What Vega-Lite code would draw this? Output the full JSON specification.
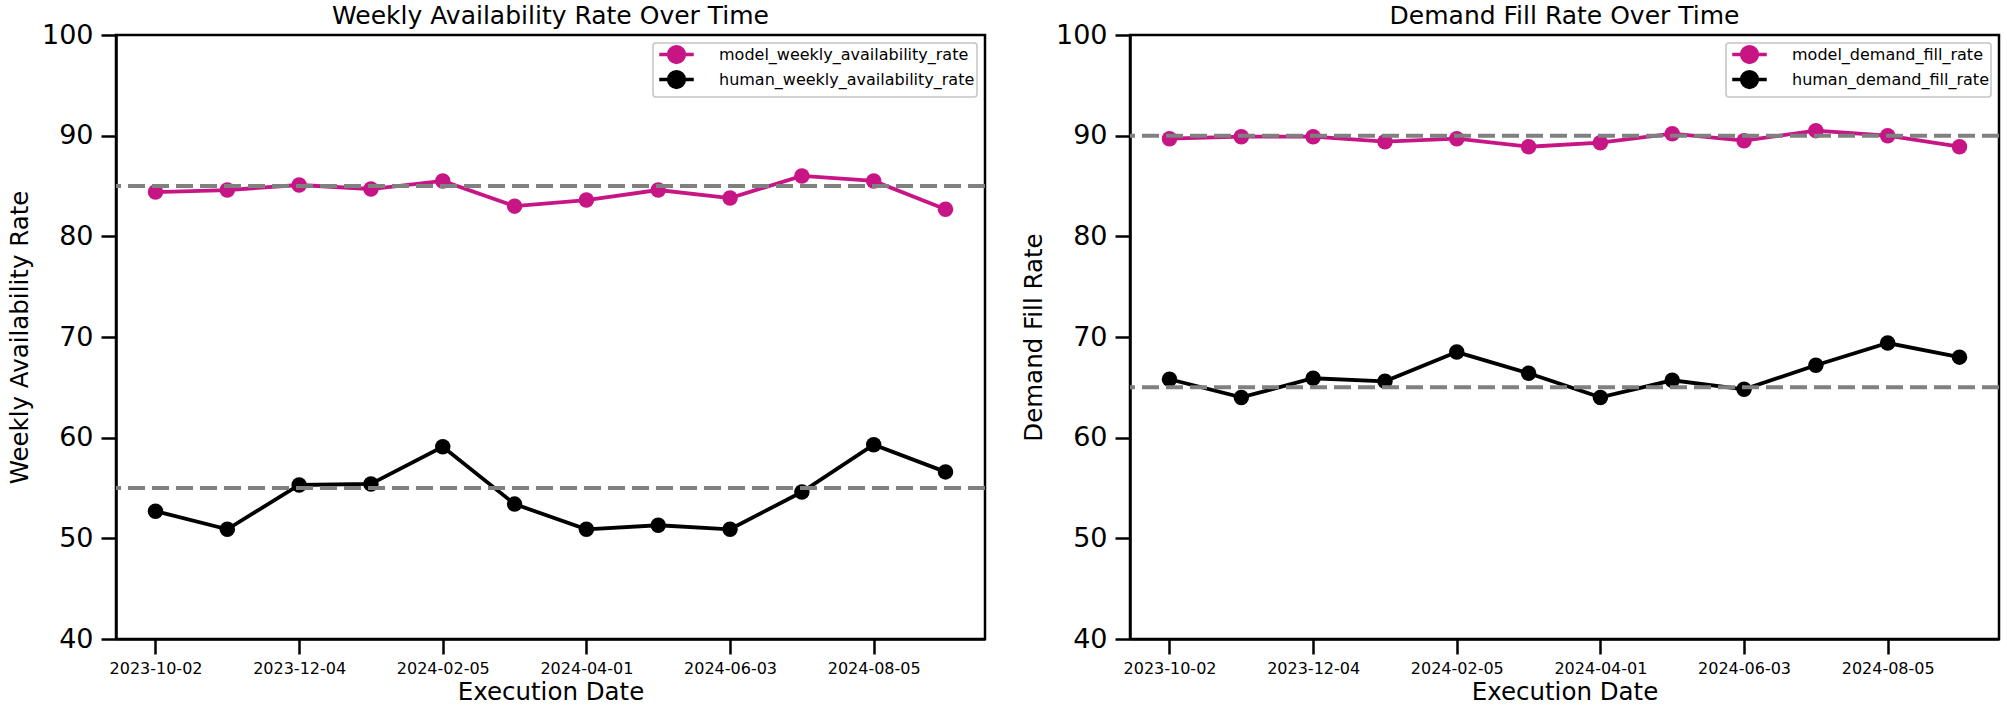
{
  "$schema": "https://vega.github.io/schema/vega-lite/v6.json",
  "background": "white",
  "padding": {"left": 6, "top": 2, "right": 5, "bottom": 2},
  "bounds": "flush",
  "spacing": 145,
  "datasets": {
    "weekly": [
      {"date": "2023-10-02", "series": "model_weekly_availability_rate", "value": 84.4},
      {"date": "2023-11-06", "series": "model_weekly_availability_rate", "value": 84.6},
      {"date": "2023-12-04", "series": "model_weekly_availability_rate", "value": 85.1},
      {"date": "2024-01-01", "series": "model_weekly_availability_rate", "value": 84.7},
      {"date": "2024-02-05", "series": "model_weekly_availability_rate", "value": 85.5},
      {"date": "2024-03-04", "series": "model_weekly_availability_rate", "value": 83.0},
      {"date": "2024-04-01", "series": "model_weekly_availability_rate", "value": 83.6},
      {"date": "2024-05-06", "series": "model_weekly_availability_rate", "value": 84.6},
      {"date": "2024-06-03", "series": "model_weekly_availability_rate", "value": 83.8},
      {"date": "2024-07-01", "series": "model_weekly_availability_rate", "value": 86.0},
      {"date": "2024-08-05", "series": "model_weekly_availability_rate", "value": 85.5},
      {"date": "2024-09-02", "series": "model_weekly_availability_rate", "value": 82.7},
      {"date": "2023-10-02", "series": "human_weekly_availability_rate", "value": 52.7},
      {"date": "2023-11-06", "series": "human_weekly_availability_rate", "value": 50.9},
      {"date": "2023-12-04", "series": "human_weekly_availability_rate", "value": 55.3},
      {"date": "2024-01-01", "series": "human_weekly_availability_rate", "value": 55.4},
      {"date": "2024-02-05", "series": "human_weekly_availability_rate", "value": 59.1},
      {"date": "2024-03-04", "series": "human_weekly_availability_rate", "value": 53.4},
      {"date": "2024-04-01", "series": "human_weekly_availability_rate", "value": 50.9},
      {"date": "2024-05-06", "series": "human_weekly_availability_rate", "value": 51.3},
      {"date": "2024-06-03", "series": "human_weekly_availability_rate", "value": 50.9},
      {"date": "2024-07-01", "series": "human_weekly_availability_rate", "value": 54.6},
      {"date": "2024-08-05", "series": "human_weekly_availability_rate", "value": 59.3},
      {"date": "2024-09-02", "series": "human_weekly_availability_rate", "value": 56.6}
    ],
    "fill": [
      {"date": "2023-10-02", "series": "model_demand_fill_rate", "value": 89.7},
      {"date": "2023-11-06", "series": "model_demand_fill_rate", "value": 89.9},
      {"date": "2023-12-04", "series": "model_demand_fill_rate", "value": 89.9},
      {"date": "2024-01-01", "series": "model_demand_fill_rate", "value": 89.4},
      {"date": "2024-02-05", "series": "model_demand_fill_rate", "value": 89.7},
      {"date": "2024-03-04", "series": "model_demand_fill_rate", "value": 88.9},
      {"date": "2024-04-01", "series": "model_demand_fill_rate", "value": 89.3},
      {"date": "2024-05-06", "series": "model_demand_fill_rate", "value": 90.2},
      {"date": "2024-06-03", "series": "model_demand_fill_rate", "value": 89.5},
      {"date": "2024-07-01", "series": "model_demand_fill_rate", "value": 90.5},
      {"date": "2024-08-05", "series": "model_demand_fill_rate", "value": 90.0},
      {"date": "2024-09-02", "series": "model_demand_fill_rate", "value": 88.9},
      {"date": "2023-10-02", "series": "human_demand_fill_rate", "value": 65.8},
      {"date": "2023-11-06", "series": "human_demand_fill_rate", "value": 64.0},
      {"date": "2023-12-04", "series": "human_demand_fill_rate", "value": 65.9},
      {"date": "2024-01-01", "series": "human_demand_fill_rate", "value": 65.6},
      {"date": "2024-02-05", "series": "human_demand_fill_rate", "value": 68.5},
      {"date": "2024-03-04", "series": "human_demand_fill_rate", "value": 66.4},
      {"date": "2024-04-01", "series": "human_demand_fill_rate", "value": 64.0},
      {"date": "2024-05-06", "series": "human_demand_fill_rate", "value": 65.7},
      {"date": "2024-06-03", "series": "human_demand_fill_rate", "value": 64.8},
      {"date": "2024-07-01", "series": "human_demand_fill_rate", "value": 67.2},
      {"date": "2024-08-05", "series": "human_demand_fill_rate", "value": 69.4},
      {"date": "2024-09-02", "series": "human_demand_fill_rate", "value": 68.0}
    ],
    "weekly_ref": [{"target": 85}, {"target": 55}],
    "fill_ref": [{"target": 90}, {"target": 65}]
  },
  "hconcat": [
    {
      "width": 869,
      "height": 604,
      "title": {"text": "Weekly Availability Rate Over Time"},
      "layer": [
        {
          "data": {"name": "weekly"},
          "mark": {"type": "line", "strokeWidth": 3.8, "point": {"filled": true, "size": 240, "opacity": 1}},
          "encoding": {
            "x": {"field": "date", "type": "ordinal", "scale": {"type": "point", "padding": 0.55},
                  "axis": {"title": "Execution Date", "values": ["2023-10-02", "2023-12-04", "2024-02-05", "2024-04-01", "2024-06-03", "2024-08-05"]}},
            "y": {"field": "value", "type": "quantitative", "scale": {"domain": [40, 100], "nice": false, "zero": false},
                  "axis": {"title": "Weekly Availability Rate", "values": [40, 50, 60, 70, 80, 90, 100]}},
            "color": {"field": "series", "type": "nominal",
                      "scale": {"domain": ["model_weekly_availability_rate", "human_weekly_availability_rate"], "range": ["#c71585", "#000000"]},
                      "legend": {"title": null, "symbolSize": 225, "symbolType": "M-2.3,0L2.3,0M1.05,0A1.05,1.05,0,1,1,-1.05,0A1.05,1.05,0,1,1,1.05,0Z",
                                 "encode": {"symbols": {"update": {"fill": {"signal": "indexof(datum.value,'human') === 0 ? '#000000' : '#c71585'"}, "stroke": {"signal": "indexof(datum.value,'human') === 0 ? '#000000' : '#c71585'"}, "opacity": {"value": 1}}}}}}
          }
        },
        {
          "data": {"name": "weekly_ref"},
          "mark": {"type": "rule", "strokeDash": [17, 7], "strokeWidth": 4, "color": "#808080"},
          "encoding": {"y": {"field": "target", "type": "quantitative", "axis": {"title": "Weekly Availability Rate"}}}
        }
      ]
    },
    {
      "width": 869,
      "height": 604,
      "title": {"text": "Demand Fill Rate Over Time"},
      "layer": [
        {
          "data": {"name": "fill"},
          "mark": {"type": "line", "strokeWidth": 3.8, "point": {"filled": true, "size": 240, "opacity": 1}},
          "encoding": {
            "x": {"field": "date", "type": "ordinal", "scale": {"type": "point", "padding": 0.55},
                  "axis": {"title": "Execution Date", "values": ["2023-10-02", "2023-12-04", "2024-02-05", "2024-04-01", "2024-06-03", "2024-08-05"]}},
            "y": {"field": "value", "type": "quantitative", "scale": {"domain": [40, 100], "nice": false, "zero": false},
                  "axis": {"title": "Demand Fill Rate", "values": [40, 50, 60, 70, 80, 90, 100]}},
            "color": {"field": "series", "type": "nominal",
                      "scale": {"domain": ["model_demand_fill_rate", "human_demand_fill_rate"], "range": ["#c71585", "#000000"]},
                      "legend": {"title": null, "symbolSize": 225, "symbolType": "M-2.3,0L2.3,0M1.05,0A1.05,1.05,0,1,1,-1.05,0A1.05,1.05,0,1,1,1.05,0Z",
                                 "encode": {"symbols": {"update": {"fill": {"signal": "indexof(datum.value,'human') === 0 ? '#000000' : '#c71585'"}, "stroke": {"signal": "indexof(datum.value,'human') === 0 ? '#000000' : '#c71585'"}, "opacity": {"value": 1}}}}}}
          }
        },
        {
          "data": {"name": "fill_ref"},
          "mark": {"type": "rule", "strokeDash": [17, 7], "strokeWidth": 4, "color": "#808080"},
          "encoding": {"y": {"field": "target", "type": "quantitative", "axis": {"title": "Demand Fill Rate"}}}
        }
      ]
    }
  ],
  "resolve": {"scale": {"color": "independent"}},
  "config": {
    "font": "DejaVu Sans",
    "view": {"stroke": "#000000", "strokeWidth": 2.5},
    "title": {"fontSize": 25, "fontWeight": "normal", "font": "DejaVu Sans", "color": "#000000", "anchor": "middle", "frame": "group", "baseline": "alphabetic", "offset": -8},
    "axis": {"domainColor": "#000000", "domainWidth": 2.5, "tickColor": "#000000", "tickWidth": 2.5, "tickSize": 15, "grid": false,
             "labelColor": "#000000", "titleColor": "#000000", "titleFontWeight": "normal", "labelFont": "DejaVu Sans", "titleFont": "DejaVu Sans"},
    "axisX": {"labelFontSize": 16, "titleFontSize": 24.5, "labelPadding": 6, "titlePadding": 4, "labelAngle": 0},
    "axisY": {"labelFontSize": 27, "titleFontSize": 24.5, "labelPadding": 8, "titlePadding": 9},
    "legend": {"orient": "top-right", "offset": 8, "labelFontSize": 16, "labelFont": "DejaVu Sans", "labelColor": "#000000", "labelLimit": 0,
               "padding": 2, "rowPadding": -6, "symbolStrokeWidth": 3.5, "symbolOffset": 12, "labelOffset": 33,
               "strokeColor": "#c4c4c4", "strokeWidth": 1.5, "fillColor": "rgba(255,255,255,0.8)", "cornerRadius": 3}
  }
}
